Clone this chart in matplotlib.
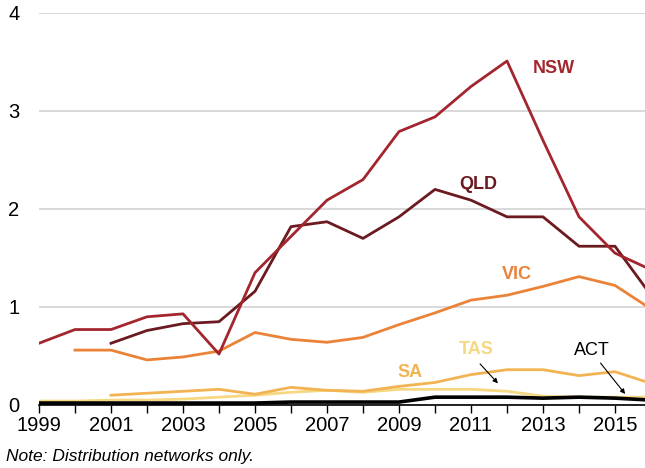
import numpy as np
import matplotlib
matplotlib.use("Agg")
import matplotlib.pyplot as plt

plt.rcParams['font.family'] = ['Liberation Sans', 'DejaVu Sans']

years = np.arange(1999, 2017)

# values (NaN = no data that year)
nan = np.nan
nsw = [0.63, 0.77, 0.77, 0.90, 0.93, 0.52, 1.35, 1.72, 2.09, 2.30, 2.79, 2.94, 3.25, 3.51, 2.70, 1.92, 1.55, 1.38]
qld = [nan, nan, 0.63, 0.76, 0.83, 0.85, 1.16, 1.82, 1.87, 1.70, 1.92, 2.20, 2.09, 1.92, 1.92, 1.62, 1.62, 1.12]
vic = [nan, 0.56, 0.56, 0.46, 0.49, 0.55, 0.74, 0.67, 0.64, 0.69, 0.82, 0.94, 1.07, 1.12, 1.21, 1.31, 1.22, 0.98]
sa = [nan, nan, 0.10, 0.12, 0.14, 0.16, 0.11, 0.18, 0.15, 0.14, 0.19, 0.23, 0.31, 0.36, 0.36, 0.30, 0.34, 0.22]
tas = [0.04, 0.04, 0.05, 0.05, 0.06, 0.08, 0.10, 0.13, 0.15, 0.13, 0.16, 0.16, 0.16, 0.14, 0.09, 0.08, 0.08, 0.08]
act = [0.02, 0.02, 0.02, 0.02, 0.02, 0.02, 0.02, 0.03, 0.03, 0.03, 0.03, 0.08, 0.08, 0.08, 0.07, 0.08, 0.07, 0.05]

c_nsw = '#a3262e'
c_qld = '#6b1a20'
c_vic = '#ea8338'
c_sa = '#f2b352'
c_tas = '#f6d882'
c_act = '#000000'

fig = plt.figure(figsize=(6.45, 4.68), dpi=100)
ax = fig.add_axes([39 / 645, 63 / 468, 612 / 645, 392 / 468])

lw = 2.0
ax.plot(years, tas, color=c_tas, lw=lw, zorder=3)
ax.plot(years, sa, color=c_sa, lw=lw, zorder=3)
ax.plot(years, act, color=c_act, lw=2.6, zorder=4)
ax.plot(years, vic, color=c_vic, lw=lw, zorder=3)
ax.plot(years, qld, color=c_qld, lw=lw, zorder=3)
ax.plot(years, nsw, color=c_nsw, lw=lw, zorder=3)

ax.set_xlim(1999, 2016)
ax.set_ylim(0, 4)
ax.set_yticks([0, 1, 2, 3, 4])
ax.set_xticks(years)
ax.set_xticklabels([str(y) if y % 2 == 1 else '' for y in years])
ax.grid(axis='y', color='#d9d9d9', lw=1.4)
ax.set_axisbelow(True)
for s in ['top', 'right', 'left']:
    ax.spines[s].set_visible(False)
ax.spines['bottom'].set_color('black')
ax.spines['bottom'].set_linewidth(1.2)
ax.tick_params(axis='y', length=0, labelsize=14.5, pad=22)
ax.tick_params(axis='x', length=6, width=1, direction='out', labelsize=14.5, pad=2)
for lab in ax.get_yticklabels():
    lab.set_horizontalalignment('left')

lab_kw = dict(fontsize=13, fontweight='bold', ha='center', va='center')
ax.text(2013.3, 3.43, 'NSW', color=c_nsw, **lab_kw)
ax.text(2011.2, 2.25, 'QLD', color=c_qld, **lab_kw)
ax.text(2012.28, 1.33, 'VIC', color=c_vic, **lab_kw)
ax.text(2009.3, 0.33, 'SA', color=c_sa, **lab_kw)
ax.text(2011.15, 0.57, 'TAS', color=c_tas, **lab_kw)
ax.text(2014.35, 0.56, 'ACT', color='black', fontsize=13, ha='center', va='center')

ax.annotate('', xy=(2011.8, 0.20), xytext=(2011.2, 0.44),
            arrowprops=dict(arrowstyle='-|>', color='black', lw=0.8, mutation_scale=7))
ax.annotate('', xy=(2015.33, 0.09), xytext=(2014.55, 0.45),
            arrowprops=dict(arrowstyle='-|>', color='black', lw=0.8, mutation_scale=7))

fig.text(6 / 645, 1 - 457 / 468, 'Note: Distribution networks only.', fontsize=12.5,
         style='italic', ha='left', va='center')

fig.savefig('out.png', dpi=100)
